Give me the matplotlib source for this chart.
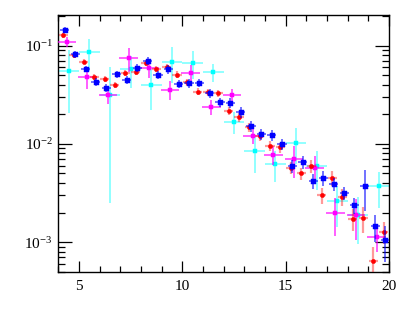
import numpy as np
import matplotlib
matplotlib.use("Agg")
import matplotlib.pyplot as plt
from matplotlib.ticker import FixedLocator, LogLocator, NullFormatter, FuncFormatter

plt.rcParams['font.family'] = ['Liberation Serif', 'DejaVu Serif']
plt.rcParams['mathtext.fontset'] = 'custom'
plt.rcParams['mathtext.rm'] = 'Liberation Serif'
plt.rcParams['mathtext.it'] = 'Liberation Serif:italic'

# fine bins (0.5 wide) for red and blue
x_fine = np.arange(4.25, 20.0, 0.5)
red_y = [0.128, 0.080, 0.069, 0.048, 0.046, 0.0398, 0.0525, 0.054,
         0.067, 0.0575, 0.061, 0.0507, 0.0425, 0.034, 0.0336, 0.0328,
         0.0218, 0.0187, 0.0148, 0.0119, 0.0096, 0.0092, 0.00575, 0.0050,
         0.0059, 0.0030, 0.00454, 0.0029, 0.00173, 0.00177, 0.00064, 0.00127]
red_rel = [0.06, 0.06, 0.06, 0.07, 0.07, 0.07, 0.07, 0.07,
           0.07, 0.07, 0.07, 0.08, 0.08, 0.08, 0.09, 0.09,
           0.1, 0.1, 0.1, 0.11, 0.12, 0.12, 0.14, 0.15,
           0.15, 0.18, 0.17, 0.2, 0.25, 0.3, 0.4, 0.25]
blue_y = [0.145, 0.082, 0.058, 0.043, 0.0374, 0.051, 0.0448, 0.0597,
          0.0704, 0.0504, 0.0575, 0.041, 0.0414, 0.042, 0.0328, 0.0266,
          0.0263, 0.021, 0.0152, 0.0126, 0.0124, 0.0100, 0.0060, 0.0065,
          0.0042, 0.00454, 0.0039, 0.00316, 0.00237, 0.00374, 0.00145, 0.00105]
blue_rel = [0.08, 0.08, 0.08, 0.09, 0.09, 0.09, 0.09, 0.09,
            0.09, 0.1, 0.1, 0.1, 0.1, 0.1, 0.11, 0.11,
            0.11, 0.12, 0.12, 0.12, 0.13, 0.13, 0.15, 0.15,
            0.17, 0.17, 0.15, 0.15, 0.18, 0.45, 0.3, 0.4]

# coarse bins (1.0 wide) for magenta and cyan
x_mag = np.arange(4.4, 20.0, 1.0)
mag_y = [0.109, 0.048, 0.0316, 0.0744, 0.059, 0.0355, 0.0525, 0.024,
         0.0316, 0.0121, 0.0078, 0.0070, 0.0057, 0.0020, 0.0019, 0.00113]
mag_rel = [0.12, 0.25, 0.2, 0.27, 0.2, 0.22, 0.22, 0.18,
           0.15, 0.18, 0.22, 0.35, 0.32, 0.42, 0.45, 0.3]
x_cyan = np.arange(4.5, 20.0, 1.0)
cyan_y = [0.0557, 0.0857, 0.0316, 0.0575, 0.0398, 0.0687, 0.0671, 0.0537,
          0.0169, 0.0084, 0.0063, 0.0103, 0.0059, 0.0026, 0.0019, 0.00374]
cyan_rel = [0.63, 0.35, 0.92, 0.35, 0.45, 0.4, 0.32, 0.2,
            0.25, 0.4, 0.35, 0.4, 0.42, 0.45, 0.5, 0.4]

fig = plt.figure(figsize=(4.09, 3.27), dpi=100)
ax = fig.add_axes([0.1425, 0.169, 0.809, 0.785])


def draw(x, y, rel, xerr, color, marker, ms, ealpha, elw, z):
    y = np.array(y)
    ax.errorbar(x, y, yerr=y * np.array(rel), xerr=xerr, fmt=marker, ms=ms, mew=0.3,
                color=color, mec=color, ecolor=matplotlib.colors.to_rgba(color, ealpha),
                elinewidth=elw, capsize=0, zorder=z)


draw(x_cyan, cyan_y, cyan_rel, 0.5, '#00ffff', 's', 2.2, 0.55, 1.1, 2)
draw(x_mag, mag_y, mag_rel, 0.45, '#ff00ff', 's', 2.2, 0.8, 1.1, 3)
draw(x_fine - 0.01, red_y, red_rel, 0.22, '#ff0000', 'o', 3.1, 0.4, 1.6, 4)
draw(x_fine + 0.07, blue_y, blue_rel, 0.22, '#0000ff', 's', 3.6, 0.6, 1.3, 5)

ax.set_yscale('log')
ax.set_xlim(4.0, 20.0)
ax.set_ylim(5.0e-4, 0.205)

ax.xaxis.set_major_locator(FixedLocator([5, 10, 15, 20]))
ax.xaxis.set_minor_locator(FixedLocator(np.arange(4, 21, 1)))
ax.yaxis.set_major_locator(LogLocator(base=10))
ax.yaxis.set_minor_locator(LogLocator(base=10, subs=np.arange(2, 10)))
ax.yaxis.set_minor_formatter(NullFormatter())
ax.yaxis.set_major_formatter(FuncFormatter(lambda v, p: r'$10^{%d}$' % round(np.log10(v))))

ax.tick_params(which='both', direction='in', top=True, right=True, labelsize=11, width=0.9)
ax.tick_params(axis='x', which='major', length=8, pad=6)
ax.tick_params(axis='x', which='minor', length=4)
ax.tick_params(axis='y', which='major', length=10, pad=4)
ax.tick_params(axis='y', which='minor', length=5)
for s in ax.spines.values():
    s.set_linewidth(1.0)

fig.savefig('out.png', dpi=100)
